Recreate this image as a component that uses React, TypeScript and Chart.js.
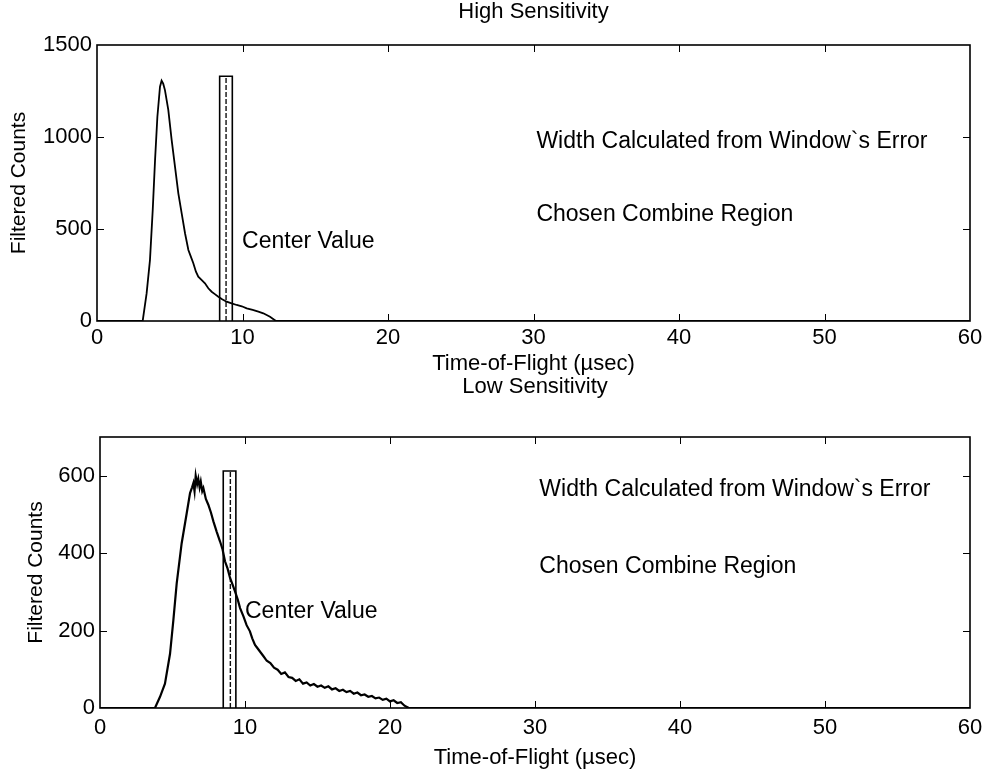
import React, { useEffect, useRef } from "react";
import { Chart, registerables } from "chart.js";

Chart.register(...registerables);

const FONT = "'Liberation Sans', Arial, Helvetica, sans-serif";

// ---------- High sensitivity panel data ----------
const highTitle = "High Sensitivity";
const highTime = [0, 3.0, 3.14, 3.41, 3.64, 3.83, 3.99, 4.15, 4.33, 4.44, 4.55, 4.67, 4.9, 5.13, 5.36, 5.59, 5.82, 6.05, 6.28, 6.45, 6.62, 6.8, 6.96, 7.2, 7.42, 7.65, 7.88, 8.1, 8.34, 8.6, 8.91, 9.25, 9.6, 9.95, 10.29, 10.7, 11.09, 11.43, 11.89, 12.3, 60];
const highCounts = [0, 0, 0, 150, 331, 603, 875, 1110, 1273, 1306, 1290, 1255, 1147, 984, 839, 694, 585, 477, 386, 350, 314, 268, 241, 222, 205, 178, 159, 146, 132, 118, 105, 96, 87, 80, 69, 60, 51, 42, 23, 0, 0];
const highYMax = 1500;
const highYStep = 500;
const highWindowLeft = 8.43;
const highWindowCenter = 8.87;
const highWindowRight = 9.3;
const highWindowTop = 1330;

// ---------- Low sensitivity panel data ----------
const lowTitle = "Low Sensitivity";
const lowTime = [0, 3.79, 4.14, 4.48, 4.83, 5.06, 5.29, 5.63, 5.98, 6.21, 6.35, 6.44, 6.52, 6.6, 6.7, 6.78, 6.87, 6.95, 7.05, 7.13, 7.3, 7.47, 7.65, 7.82, 8.05, 8.28, 8.45, 8.62, 8.8, 8.97, 9.15, 9.31, 9.5, 9.66, 9.9, 10.11, 10.34, 10.5, 10.69, 10.85, 11.03, 11.25, 11.5, 11.75, 12.0, 12.25, 12.5, 12.75, 13.0, 13.25, 13.5, 13.75, 14.0, 14.25, 14.5, 14.75, 15.0, 15.25, 15.5, 15.75, 16.0, 16.25, 16.5, 16.75, 17.0, 17.25, 17.5, 17.75, 18.0, 18.25, 18.5, 18.75, 19.0, 19.25, 19.5, 19.75, 20.0, 20.25, 20.5, 20.75, 21.0, 21.3, 60];
const lowCounts = [0, 0, 29, 63, 140, 227, 322, 425, 503, 555, 570, 581, 560, 600, 578, 592, 570, 585, 560, 568, 540, 525, 505, 482, 455, 430, 410, 379, 360, 336, 318, 301, 280, 258, 236, 214, 198, 180, 163, 155, 146, 135, 122, 116, 104, 99, 88, 92, 80, 78, 70, 74, 63, 66, 58, 62, 55, 58, 52, 56, 48, 51, 44, 47, 41, 44, 37, 40, 33, 35, 29, 31, 25, 27, 21, 24, 17, 20, 13, 15, 6, 0, 0];
const lowYMax = 700;
const lowYStep = 200;
const lowWindowLeft = 8.5;
const lowWindowCenter = 8.99;
const lowWindowRight = 9.37;
const lowWindowTop = 612;

// ---------- Shared labels ----------
const xTitle = "Time-of-Flight (\u00b5sec)";
const yTitle = "Filtered Counts";
const xMin = 0;
const xMax = 60;
const xStep = 10;
const noteWidth = "Width Calculated from Window`s Error";
const noteRegion = "Chosen Combine Region";
const noteCenter = "Center Value";

type Note = { text: string; x: number; y: number };

type Panel = {
  title: string;
  time: number[];
  counts: number[];
  yMax: number;
  yStep: number;
  win: { left: number; center: number; right: number; top: number };
  notes: Note[];
  height: number;
  leftWidth: number;
  xAxisHeight: number;
  chartTop: number;
  titleY: number;
  xTitlePad: number;
  yTitlePad: number;
  xTickPad: number;
  lineWidth: number;
};

const framePlugin = {
  id: "frame",
  afterDraw(chart: any) {
    const { ctx, chartArea: a, scales } = chart;
    const x = scales.x;
    const y = scales.y;
    const opts = chart.options.plugins.frame;
    const notes: Note[] = opts.notes;
    ctx.save();
    ctx.strokeStyle = "#000";
    ctx.lineWidth = 1.6;
    ctx.strokeRect(a.left, a.top, a.right - a.left, a.bottom - a.top);
    ctx.lineWidth = 1;
    const L = 7;
    x.ticks.forEach((t: any) => {
      const px = Math.round(x.getPixelForValue(t.value)) + 0.5;
      if (px <= a.left + 1 || px >= a.right - 1) return;
      ctx.beginPath();
      ctx.moveTo(px, a.bottom);
      ctx.lineTo(px, a.bottom - L);
      ctx.moveTo(px, a.top);
      ctx.lineTo(px, a.top + L);
      ctx.stroke();
    });
    y.ticks.forEach((t: any) => {
      const py = Math.round(y.getPixelForValue(t.value)) + 0.5;
      if (py <= a.top + 1 || py >= a.bottom - 1) return;
      ctx.beginPath();
      ctx.moveTo(a.left, py);
      ctx.lineTo(a.left + L, py);
      ctx.moveTo(a.right, py);
      ctx.lineTo(a.right - L, py);
      ctx.stroke();
    });
    ctx.fillStyle = "#000";
    ctx.textBaseline = "middle";
    // panel title, centred over the plot area
    ctx.font = `22px ${FONT}`;
    ctx.textAlign = "center";
    ctx.fillText(opts.title, (a.left + a.right) / 2, opts.titleY);
    // annotations
    ctx.font = `23px ${FONT}`;
    ctx.textAlign = "left";
    notes.forEach((n) => {
      ctx.fillText(n.text, x.getPixelForValue(n.x), y.getPixelForValue(n.y));
    });
    ctx.restore();
  },
};

function buildConfig(p: Panel): any {
  const curve = p.time.map((t, i) => ({ x: t, y: p.counts[i] }));
  const box = [
    { x: p.win.left, y: 0 },
    { x: p.win.left, y: p.win.top },
    { x: p.win.right, y: p.win.top },
    { x: p.win.right, y: 0 },
  ];
  const centerLine = [
    { x: p.win.center, y: 0 },
    { x: p.win.center, y: p.win.top },
  ];
  return {
    type: "scatter",
    data: {
      datasets: [
        { data: curve, showLine: true, borderColor: "#000", borderWidth: p.lineWidth, pointRadius: 0, tension: 0 },
        { data: box, showLine: true, borderColor: "#000", borderWidth: 1.6, pointRadius: 0, tension: 0 },
        { data: centerLine, showLine: true, borderColor: "#111", borderWidth: 1.4, borderDash: [5, 2], pointRadius: 0 },
      ],
    },
    options: {
      responsive: false,
      animation: false,
      layout: { padding: { left: 0, right: 20, top: p.chartTop, bottom: 0 } },
      plugins: {
        legend: { display: false },
        tooltip: { enabled: false },
        title: { display: false },
        frame: { notes: p.notes, title: p.title, titleY: p.titleY },
      },
      scales: {
        x: {
          type: "linear",
          min: xMin,
          max: xMax,
          grid: { display: false, drawTicks: false },
          border: { display: false },
          ticks: {
            stepSize: xStep,
            color: "#000",
            font: { family: FONT, size: 22 },
            padding: p.xTickPad,
            maxRotation: 0,
            callback: (v: any) => String(v),
          },
          title: {
            display: true,
            text: xTitle,
            color: "#000",
            font: { family: FONT, size: 22 },
            padding: { top: 0, bottom: p.xTitlePad },
          },
          afterFit: (s: any) => {
            s.height = p.xAxisHeight;
          },
        },
        y: {
          type: "linear",
          min: 0,
          max: p.yMax,
          grid: { display: false, drawTicks: false },
          border: { display: false },
          ticks: {
            stepSize: p.yStep,
            includeBounds: false,
            color: "#000",
            font: { family: FONT, size: 22 },
            padding: 5,
            callback: (v: any) => String(v),
          },
          afterBuildTicks: (s: any) => {
            s.ticks = s.ticks.filter((t: any) => t.value % p.yStep === 0);
          },
          title: {
            display: true,
            text: yTitle,
            color: "#000",
            font: { family: FONT, size: 21 },
            padding: { top: p.yTitlePad, bottom: 0 },
          },
          afterFit: (s: any) => {
            s.width = p.leftWidth;
          },
        },
      },
    },
    plugins: [framePlugin],
  };
}

const highPanel: Panel = {
  title: highTitle,
  time: highTime,
  counts: highCounts,
  yMax: highYMax,
  yStep: highYStep,
  win: { left: highWindowLeft, center: highWindowCenter, right: highWindowRight, top: highWindowTop },
  notes: [
    { text: noteWidth, x: 30.2, y: 975 },
    { text: noteRegion, x: 30.2, y: 578 },
    { text: noteCenter, x: 9.97, y: 430 },
  ],
  height: 377,
  leftWidth: 97,
  xAxisHeight: 56,
  chartTop: 45,
  titleY: 12,
  xTitlePad: 0,
  yTitlePad: 7,
  xTickPad: 4,
  lineWidth: 1.8,
};

const lowPanel: Panel = {
  title: lowTitle,
  time: lowTime,
  counts: lowCounts,
  yMax: lowYMax,
  yStep: lowYStep,
  win: { left: lowWindowLeft, center: lowWindowCenter, right: lowWindowRight, top: lowWindowTop },
  notes: [
    { text: noteWidth, x: 30.3, y: 563 },
    { text: noteRegion, x: 30.3, y: 364 },
    { text: noteCenter, x: 10.0, y: 248 },
  ],
  height: 398,
  leftWidth: 100,
  xAxisHeight: 67,
  chartTop: 60,
  titleY: 10,
  xTitlePad: 4,
  yTitlePad: 24,
  xTickPad: 7,
  lineWidth: 2.2,
};

function PanelChart({ panel, top }: { panel: Panel; top: number }) {
  const ref = useRef<HTMLCanvasElement>(null);
  useEffect(() => {
    if (!ref.current) return;
    const chart = new Chart(ref.current, buildConfig(panel));
    return () => chart.destroy();
  }, [panel]);
  return (
    <canvas
      ref={ref}
      width={990}
      height={panel.height}
      style={{ position: "absolute", left: 0, top, width: 990, height: panel.height }}
    />
  );
}

export default function App() {
  return (
    <div style={{ position: "absolute", left: 0, top: 0, width: 990, height: 775, background: "#fff" }}>
      <PanelChart panel={highPanel} top={0} />
      <PanelChart panel={lowPanel} top={377} />
    </div>
  );
}
